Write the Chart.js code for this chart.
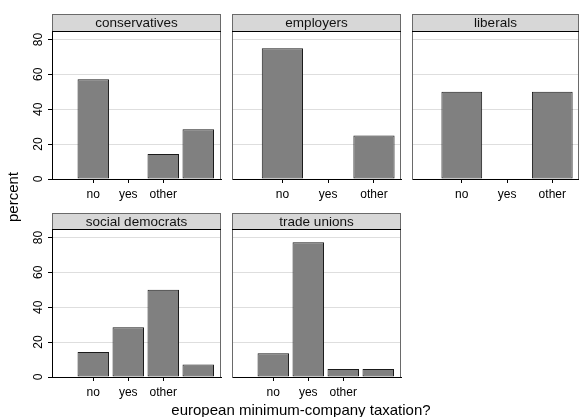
<!DOCTYPE html>
<html>
<head>
<meta charset="utf-8">
<script src="https://cdn.jsdelivr.net/npm/chart.js@4.4.1/dist/chart.umd.min.js"></script>
<style>
  html, body { margin: 0; padding: 0; background: #fff; }
  #wrap { position: relative; width: 579px; height: 417px; overflow: hidden; background: #fff; }
  #wrap canvas { position: absolute; left: 0; top: 0; }
</style>
</head>
<body>
<div id="wrap"></div>
<script>
// answer categories shown on the x axis (a fourth, unlabelled bar follows where present)
const categories = ['no', 'yes', 'other'];
const groups = ['conservatives', 'employers', 'liberals', 'social democrats', 'trade unions'];

// percent of respondents per answer, one array per group
const conservatives   = [57.14, 0, 14.29, 28.57];
const employers       = [75, 0, 25];
const liberals        = [50, 0, 50];
const socialDemocrats = [14.29, 28.57, 50, 7.14];
const tradeUnions     = [13.64, 77.27, 4.55, 4.55];

const yTicks = [0, 20, 40, 60, 80];
const yTitle = 'percent';
const xTitle = 'european minimum-company taxation?';

const W = 579, H = 417;
const FONT = '"Liberation Sans", Arial, Helvetica, sans-serif';

// panel grid: [left, right] per column, [stripTop, plotTop, plotBottom] per row
const cols = [[52, 221], [232, 401], [412, 581]];
const rows = [[14, 32, 179], [213, 230, 377]];
const X_AXIS_H = 30;   // room below a panel for tick marks and labels
const Y_AXIS_W = 45;   // room left of the first column for the value axis

const panels = [
  { title: groups[0], values: conservatives,   col: 0, row: 0 },
  { title: groups[1], values: employers,       col: 1, row: 0 },
  { title: groups[2], values: liberals,        col: 2, row: 0 },
  { title: groups[3], values: socialDemocrats, col: 0, row: 1 },
  { title: groups[4], values: tradeUnions,     col: 1, row: 1 }
];

// x range of a panel depends on how many bars it holds
function xRange(n) {
  return n === 4 ? [-0.18, 4.65] : [-0.1, 3.59];
}

// grey title strip above each panel plus its right-hand frame line
const panelFrame = {
  id: 'panelFrame',
  beforeDraw(chart, args, opts) {
    const ctx = chart.ctx;
    const { left, right, top } = chart.chartArea;
    const st = opts.stripTop;
    ctx.save();
    ctx.fillStyle = '#d7d7d7';
    ctx.fillRect(left, st, right - left, top - st);
    ctx.strokeStyle = '#6a6a6a';
    ctx.lineWidth = 1;
    ctx.strokeRect(left + 0.5, st + 0.5, right - left - 1, top - st - 1);
    ctx.strokeStyle = '#000';
    ctx.beginPath();
    ctx.moveTo(left, top - 0.5);
    ctx.lineTo(right, top - 0.5);
    ctx.stroke();
    ctx.fillStyle = '#111';
    ctx.font = '13.5px ' + FONT;
    ctx.textAlign = 'center';
    ctx.textBaseline = 'middle';
    ctx.fillText(opts.title, (left + right) / 2, (st + top) / 2 + 0.5);
    ctx.restore();
  },
  afterDraw(chart) {
    const ctx = chart.ctx;
    const { right, top, bottom } = chart.chartArea;
    ctx.save();
    ctx.strokeStyle = '#6a6a6a';
    ctx.lineWidth = 1;
    ctx.beginPath();
    ctx.moveTo(right - 0.5, top);
    ctx.lineTo(right - 0.5, bottom);
    ctx.stroke();
    ctx.restore();
  }
};

// shared axis titles for the whole figure
const figureTitles = {
  id: 'figureTitles',
  afterDraw(chart, args, opts) {
    if (!opts.show) return;
    const ctx = chart.ctx;
    ctx.save();
    ctx.fillStyle = '#000';
    ctx.font = '15px ' + FONT;
    ctx.textAlign = 'center';
    ctx.textBaseline = 'alphabetic';
    ctx.fillText(xTitle, 301, 415);
    ctx.translate(18, 197);
    ctx.rotate(-Math.PI / 2);
    ctx.fillText(yTitle, 0, 0);
    ctx.restore();
  }
};

const wrap = document.getElementById('wrap');

panels.forEach((p, i) => {
  const canvas = document.createElement('canvas');
  canvas.width = W;
  canvas.height = H;
  wrap.appendChild(canvas);
  const [left, right] = cols[p.col];
  const [st, top, bottom] = rows[p.row];
  const [xmin, xmax] = xRange(p.values.length);
  const firstCol = p.col === 0;
  const yw = firstCol ? Y_AXIS_W : 0;

  new Chart(canvas, {
    type: 'bar',
    data: {
      datasets: [{
        data: p.values.map((v, k) => ({ x: k + 1, y: v })),
        backgroundColor: '#808080',
        borderColor: '#1a1a1a',
        borderWidth: 1,
        borderSkipped: false,
        categoryPercentage: 0.9,
        barPercentage: 1
      }]
    },
    options: {
      responsive: false,
      animation: false,
      devicePixelRatio: 1,
      events: [],
      layout: { padding: { left: left - yw, top: top, right: W - right, bottom: H - bottom - X_AXIS_H } },
      plugins: {
        legend: { display: false },
        tooltip: { enabled: false },
        panelFrame: { stripTop: st, title: p.title },
        figureTitles: { show: i === 0 }
      },
      scales: {
        x: {
          type: 'linear',
          min: xmin,
          max: xmax,
          offset: false,
          afterBuildTicks: s => { s.ticks = categories.map((c, k) => ({ value: k + 1 })); },
          afterFit: s => { s.height = X_AXIS_H; },
          ticks: {
            autoSkip: false, minRotation: 0, maxRotation: 0, padding: 4,
            color: '#000', font: { family: FONT, size: 12 },
            callback: v => categories[v - 1]
          },
          grid: { display: true, offset: false, drawOnChartArea: false, drawTicks: true, tickLength: 4, tickColor: '#000', tickWidth: 1 },
          border: { display: true, color: '#000', width: 1 }
        },
        y: {
          type: 'linear',
          min: 0,
          max: 84.3,
          afterBuildTicks: s => { s.ticks = yTicks.map(v => ({ value: v })); },
          afterFit: s => { s.width = yw; },
          ticks: {
            display: firstCol, autoSkip: false, minRotation: 90, maxRotation: 90,
            crossAlign: 'center', padding: 3,
            color: '#000', font: { family: FONT, size: 12 }
          },
          grid: {
            color: c => (c.tick && c.tick.value === 0) ? 'rgba(0,0,0,0)' : '#dedede',
            drawTicks: firstCol, tickLength: 4, tickColor: '#000', lineWidth: 1
          },
          border: { display: true, color: firstCol ? '#000' : '#6a6a6a', width: 1 }
        }
      }
    },
    plugins: [panelFrame, figureTitles]
  });
});
</script>
</body>
</html>
